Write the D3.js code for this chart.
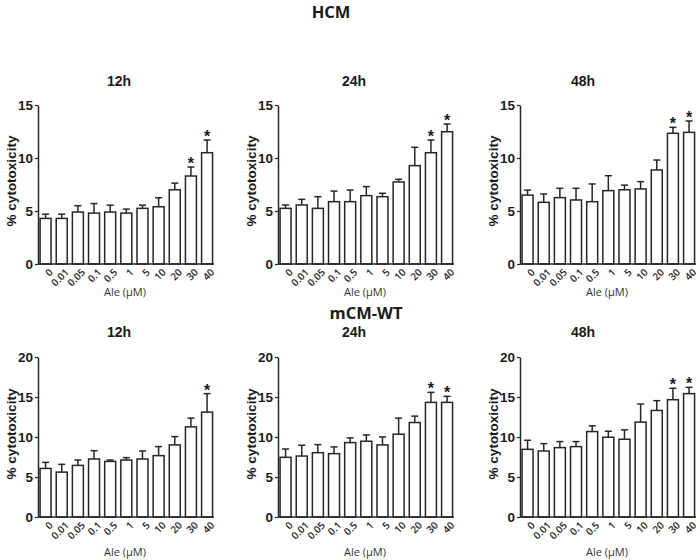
<!DOCTYPE html>
<html>
<head>
<meta charset="utf-8">
<script src="https://cdn.jsdelivr.net/npm/d3@7"></script>
<style>
  html, body { margin: 0; padding: 0; background: #fff; }
  svg { display: block; }
</style>
</head>
<body>
<svg id="chart" width="700" height="560"></svg>
<script>
// ---- data ----
const categories = ["0", "0.01", "0.05", "0.1", "0.5", "1", "5", "10", "20", "30", "40"];

const hcm12 = [4.3, 4.3, 4.9, 4.8, 4.9, 4.8, 5.25, 5.4, 7.0, 8.3, 10.5];
const hcm12Err = [0.4, 0.4, 0.6, 0.9, 0.65, 0.38, 0.3, 0.85, 0.63, 0.85, 1.2];
const hcm12Sig = ["30", "40"];

const hcm24 = [5.25, 5.57, 5.25, 5.88, 5.88, 6.45, 6.35, 7.74, 9.28, 10.5, 12.48];
const hcm24Err = [0.32, 0.53, 1.1, 1.0, 1.1, 0.85, 0.32, 0.25, 1.73, 1.2, 0.73];
const hcm24Sig = ["30", "40"];

const hcm48 = [6.5, 5.82, 6.26, 6.04, 5.88, 6.92, 7.0, 7.08, 8.87, 12.33, 12.42];
const hcm48Err = [0.47, 0.78, 0.88, 1.1, 1.67, 1.41, 0.44, 0.69, 0.94, 0.56, 1.07];
const hcm48Sig = ["30", "40"];

const mcm12 = [6.07, 5.61, 6.45, 7.25, 6.95, 7.12, 7.25, 7.67, 9.01, 11.27, 13.11];
const mcm12Err = [0.76, 0.97, 0.67, 1.04, 0.17, 0.3, 1.0, 1.13, 1.04, 1.09, 2.31];
const mcm12Sig = ["40"];

const mcm24 = [7.46, 7.62, 8.04, 7.92, 9.30, 9.47, 9.01, 10.35, 11.81, 14.33, 14.33];
const mcm24Err = [1.04, 1.35, 1.01, 0.84, 0.59, 0.79, 1.0, 2.01, 0.8, 1.25, 0.75];
const mcm24Sig = ["30", "40"];

const mcm48 = [8.46, 8.25, 8.67, 8.80, 10.68, 9.97, 9.72, 11.86, 13.32, 14.66, 15.42];
const mcm48Err = [1.13, 0.92, 0.76, 0.63, 0.72, 0.75, 1.17, 2.26, 1.22, 1.43, 0.79];
const mcm48Sig = ["30", "40"];

const hcmTicks = [0, 5, 10, 15];
const mcmTicks = [0, 5, 10, 15, 20];

const groupTitles = ["HCM", "mCM-WT"];
const timeTitles = ["12h", "24h", "48h"];
const yLabel = "% cytotoxicity";
const xLabel = "Ale (\u00b5M)";

// ---- layout ----
const svg = d3.select("#chart");
const ink = "#262626";
const axisXs = [38, 278, 520];
const titleXs = [119, 354, 583];

const rows = [
  { title: groupTitles[0], titleX: 331, titleY: 18, panelTitleY: 86, y0: 264, y1: 105, max: 15, ticks: hcmTicks,
    tickY: 268, xLabY: 296, yLabY: 181,
    series: [[hcm12, hcm12Err, hcm12Sig], [hcm24, hcm24Err, hcm24Sig], [hcm48, hcm48Err, hcm48Sig]] },
  { title: groupTitles[1], titleX: 366, titleY: 319, panelTitleY: 337, y0: 517, y1: 357, max: 20, ticks: mcmTicks,
    tickY: 521, xLabY: 556, yLabY: 434,
    series: [[mcm12, mcm12Err, mcm12Sig], [mcm24, mcm24Err, mcm24Sig], [mcm48, mcm48Err, mcm48Sig]] }
];

rows.forEach(row => {
  svg.append("text")
    .attr("x", row.titleX).attr("y", row.titleY)
    .attr("text-anchor", "middle")
    .attr("font-family", "'Open Sans', sans-serif")
    .attr("font-weight", "bold").attr("font-size", 16.5)
    .attr("fill", "#1a1a1a")
    .text(row.title);

  row.series.forEach((s, i) => {
    const [vals, errs, sig] = s;
    const ax = axisXs[i];
    const g = svg.append("g");

    const x = d3.scaleBand().domain(categories)
      .range([ax - 0.5, ax + 177.15])
      .paddingInner(0.32).paddingOuter(0.16);
    const y = d3.scaleLinear().domain([0, row.max]).range([row.y0, row.y1]);

    // panel title
    g.append("text")
      .attr("x", titleXs[i]).attr("y", row.panelTitleY)
      .attr("text-anchor", "middle")
      .attr("font-family", "'Liberation Sans', Arial, sans-serif")
      .attr("font-weight", "bold").attr("font-size", 14)
      .attr("fill", "#1a1a1a")
      .text(timeTitles[i]);

    // error bars (upper only)
    const eg = g.append("g").attr("stroke", ink).attr("stroke-width", 1.5);
    categories.forEach((c, k) => {
      const cx = x(c) + x.bandwidth() / 2;
      eg.append("line")
        .attr("x1", cx).attr("x2", cx)
        .attr("y1", y(vals[k])).attr("y2", y(vals[k] + errs[k]));
      eg.append("line")
        .attr("x1", cx - 3.5).attr("x2", cx + 3.5)
        .attr("y1", y(vals[k] + errs[k])).attr("y2", y(vals[k] + errs[k]));
    });

    // bars
    g.append("g").selectAll("rect")
      .data(categories)
      .join("rect")
      .attr("x", c => x(c))
      .attr("width", x.bandwidth())
      .attr("y", (c, k) => y(vals[k]))
      .attr("height", (c, k) => y(0) - y(vals[k]))
      .attr("fill", "#fff")
      .attr("stroke", ink)
      .attr("stroke-width", 1.5);

    // significance stars
    g.append("g").selectAll("text")
      .data(categories.filter(c => sig.includes(c)))
      .join("text")
      .attr("x", c => x(c) + x.bandwidth() / 2)
      .attr("y", c => { const k = categories.indexOf(c); return y(vals[k] + errs[k]) + 2; })
      .attr("text-anchor", "middle")
      .attr("font-family", "'Liberation Sans', Arial, sans-serif")
      .attr("font-weight", "bold").attr("font-size", 16)
      .attr("fill", "#1a1a1a")
      .text("*");

    // y axis
    const yAxis = d3.axisLeft(y).tickValues(row.ticks).tickSize(3).tickSizeOuter(0).tickPadding(2);
    const ya = g.append("g").attr("transform", `translate(${ax},0)`).call(yAxis);
    ya.select(".domain").attr("stroke", ink).attr("stroke-width", 1.5);
    ya.selectAll(".tick line").attr("stroke", ink).attr("stroke-width", 1.2);
    ya.selectAll(".tick text")
      .attr("font-family", "'Liberation Sans', Arial, sans-serif")
      .attr("font-weight", "bold").attr("font-size", 13.5)
      .attr("fill", "#1a1a1a");

    // x axis baseline
    g.append("line")
      .attr("x1", ax).attr("x2", ax + 176)
      .attr("y1", y(0)).attr("y2", y(0))
      .attr("stroke", ink).attr("stroke-width", 1.5);

    // x tick labels rotated
    g.append("g").selectAll("text")
      .data(categories)
      .join("text")
      .attr("transform", c => `translate(${x(c) + x.bandwidth() / 2 + 3},${row.tickY}) rotate(-45)`)
      .attr("text-anchor", "end")
      .attr("dy", "0.7em")
      .attr("font-family", "'Open Sans', sans-serif")
      .attr("font-weight", 600)
      .attr("font-size", 10)
      .attr("fill", "#222")
      .text(c => c);

    // x label
    g.append("text")
      .attr("x", ax + 87).attr("y", row.xLabY)
      .attr("text-anchor", "middle")
      .attr("font-family", "'Open Sans', sans-serif")
      .attr("font-size", 11)
      .attr("fill", "#333")
      .text(xLabel);

    // y label
    g.append("text")
      .attr("transform", `translate(${ax - 22},${row.yLabY}) rotate(-90)`)
      .attr("text-anchor", "middle")
      .attr("font-family", "'Liberation Sans', Arial, sans-serif")
      .attr("font-weight", "bold").attr("font-size", 13.5)
      .attr("fill", "#1a1a1a")
      .text(yLabel);
  });
});
</script>
</body>
</html>
